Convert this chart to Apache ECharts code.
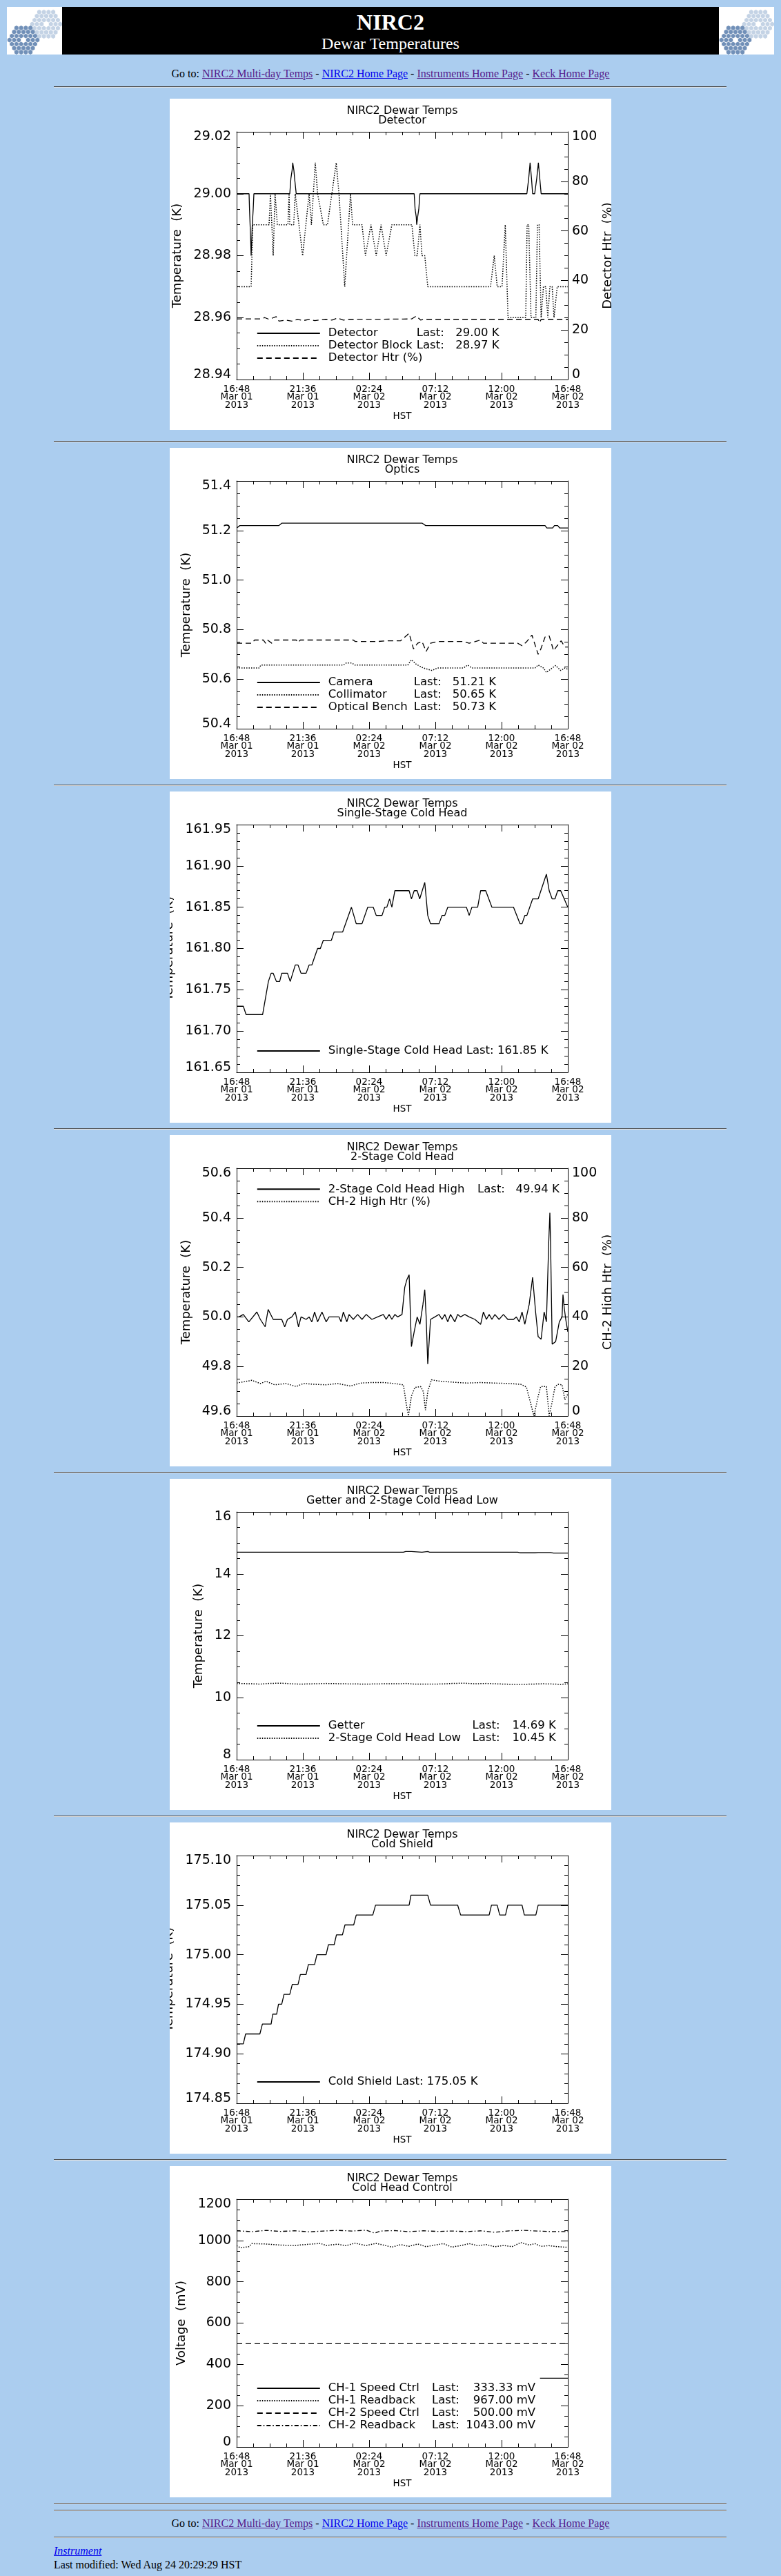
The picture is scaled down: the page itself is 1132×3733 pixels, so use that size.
<!DOCTYPE html>
<html><head><meta charset="utf-8">
<script src="https://cdn.jsdelivr.net/npm/echarts@6/dist/echarts.min.js"></script>
<style>
html,body{margin:0;padding:0;background:#ABCDEF;}
body{width:1132px;height:3733px;position:relative;overflow:hidden;font-family:'Liberation Serif','Times New Roman',serif;color:#000;}
.hr{position:absolute;left:78px;width:975px;height:0;border-top:1px solid #4c4c4c;border-bottom:1px solid #e2e2e2;}
.panel{position:absolute;left:246px;width:640px;height:480px;background:#fff;}
.nav{position:absolute;left:0;width:1132px;text-align:center;font-size:16px;line-height:20px;white-space:nowrap;}
a{text-decoration:underline;}
.vis{color:#551A8B;} .unv{color:#0000EE;}
.logo{position:absolute;top:10px;width:80px;height:69px;background:#fff;overflow:hidden;}
#banner{position:absolute;left:90px;top:10px;width:952px;height:69px;background:#000;color:#fff;}
</style></head>
<body>
<svg id="logoL" class="logo" style="left:10px" viewBox="0 0 80 69"></svg>
<div id="banner">
  <div style="position:absolute;left:0;width:952px;top:3.5px;text-align:center;font-size:32px;line-height:36px;font-weight:bold;">NIRC2</div>
  <div style="position:absolute;left:0;width:952px;top:39px;text-align:center;font-size:24px;line-height:28px;">Dewar Temperatures</div>
</div>
<svg id="logoR" class="logo" style="left:1042px" viewBox="0 0 80 69"></svg>

<div class="nav" style="top:97px">Go to: <a class="vis">NIRC2 Multi-day Temps</a> - <a class="unv">NIRC2 Home Page</a> - <a class="vis">Instruments Home Page</a> - <a class="vis">Keck Home Page</a></div>
<div class="hr" style="top:125px"></div>

<div class="panel" id="p0" style="top:143px"></div>
<div class="hr" style="top:639px"></div>
<div class="panel" id="p1" style="top:649px"></div>
<div class="hr" style="top:1137px"></div>
<div class="panel" id="p2" style="top:1147px"></div>
<div class="hr" style="top:1635px"></div>
<div class="panel" id="p3" style="top:1645px"></div>
<div class="hr" style="top:2133px"></div>
<div class="panel" id="p4" style="top:2143px"></div>
<div class="hr" style="top:2631px"></div>
<div class="panel" id="p5" style="top:2641px"></div>
<div class="hr" style="top:3129px"></div>
<div class="panel" id="p6" style="top:3139px"></div>
<div class="hr" style="top:3627px"></div>
<div class="hr" style="top:3637px"></div>
<div class="nav" style="top:3647px">Go to: <a class="vis">NIRC2 Multi-day Temps</a> - <a class="unv">NIRC2 Home Page</a> - <a class="vis">Instruments Home Page</a> - <a class="vis">Keck Home Page</a></div>
<div class="hr" style="top:3676px"></div>
<div style="position:absolute;left:78px;top:3687px;font-size:16px;line-height:20px;"><a class="unv" style="font-style:italic">Instrument</a></div>
<div style="position:absolute;left:78px;top:3707px;font-size:16px;line-height:20px;white-space:nowrap;">Last modified: Wed Aug 24 20:29:29 HST</div>

<script>
// ---------- shared x-axis tick labels (minutes after 16:48 Mar 01 2013) ----------
const xTickTime = ['16:48','21:36','02:24','07:12','12:00','16:48'];
const xTickDate = ['Mar 01','Mar 01','Mar 02','Mar 02','Mar 02','Mar 02'];
const xTickYear = ['2013','2013','2013','2013','2013','2013'];

// ---------- Panel 1: Detector ----------
const detYTicks = ['28.94','28.96','28.98','29.00','29.02'];
const pctTicks = ['0','20','40','60','80','100'];
const detT = [0,54,56,61,63,66,68,72,75,231,236,241,244,249,252,259,772,776,781,783,787,792,797,1262,1270,1276,1282,1287,1296,1305,1312,1318,1324,1440];
const detV = [29.000,29.000,28.995,28.985,28.980,28.980,28.990,28.995,29.000,29.000,29.005,29.0075,29.010,29.0075,29.005,29.000,29.000,28.995,28.9925,28.990,28.9925,28.995,29.000,29.000,29.005,29.010,29.005,29.000,29.000,29.005,29.010,29.005,29.000,29.000];
const blkT = [0,63,70,141,147,152,159,167,173,177,223,228,231,248,255,287,315,325,330,342,352,377,395,433,445,470,495,504,545,560,584,607,628,650,675,762,775,785,797,806,818,831,1104,1120,1133,1154,1168,1180,1257,1263,1270,1280,1301,1308,1315,1324,1334,1344,1353,1362,1372,1380,1394,1440];
const blkV = [28.97,28.97,28.99,28.99,29.00,29.00,28.98,29.00,29.00,28.99,28.99,29.00,28.99,28.99,29.00,28.98,29.00,28.99,28.99,29.01,29.00,28.99,28.99,29.01,29.00,28.97,29.00,28.99,28.99,28.98,28.99,28.98,28.99,28.98,28.99,28.99,28.98,28.98,28.99,28.98,28.98,28.97,28.97,28.98,28.97,28.97,28.99,28.96,28.96,28.99,28.99,28.96,28.96,28.99,28.99,28.96,28.97,28.97,28.96,28.97,28.97,28.96,28.97,28.97];
const htrT = [0,103,122,141,172,184,215,240,265,290,315,340,389,414,439,464,489,725,762,781,800,812,1311,1317,1324,1440];
const htrV = [24.5,24.5,25.0,24.3,25.4,23.6,24.0,23.6,24.3,23.8,24.3,23.8,24.3,24.0,24.8,24.0,24.3,24.4,24.5,25.6,24.0,24.3,24.3,23.0,24.3,24.3];

// ---------- Panel 2: Optics ----------
const optYTicks = ['50.4','50.6','50.8','51.0','51.2','51.4'];
const camT = [0,14,184,197,806,822,1341,1349,1374,1382,1396,1405,1440];
const camV = [51.21,51.22,51.22,51.23,51.23,51.22,51.22,51.21,51.21,51.22,51.22,51.21,51.21];
const colT = [0,97,106,464,476,501,514,744,760,781,812,849,874,986,1005,1023,1297,1311,1334,1347,1372,1387,1409,1427,1440];
const colV = [50.645,50.645,50.657,50.657,50.665,50.665,50.657,50.657,50.678,50.66,50.645,50.635,50.645,50.645,50.657,50.645,50.645,50.657,50.645,50.627,50.645,50.655,50.635,50.645,50.64];
const benT = [0,66,78,116,126,134,153,165,259,267,277,507,516,613,650,713,750,769,787,806,824,843,874,986,1011,1061,1073,1222,1241,1260,1284,1311,1322,1341,1359,1378,1394,1411,1427,1440];
const benV = [50.745,50.745,50.758,50.758,50.745,50.758,50.745,50.758,50.758,50.748,50.758,50.758,50.752,50.752,50.755,50.755,50.785,50.722,50.745,50.752,50.712,50.745,50.752,50.752,50.745,50.758,50.745,50.745,50.735,50.75,50.778,50.70,50.72,50.77,50.775,50.715,50.735,50.755,50.73,50.73];

// ---------- Panel 3: Single-Stage Cold Head ----------
const sshYTicks = ['161.65','161.70','161.75','161.80','161.85','161.90','161.95'];
const sshT = [0,29,41,113,138,150,159,173,187,196,221,233,255,267,280,302,315,327,352,364,377,412,424,461,499,520,545,570,594,607,632,644,653,665,675,688,750,760,772,785,796,818,831,843,880,893,905,918,999,1011,1023,1048,1061,1083,1110,1204,1232,1241,1253,1262,1287,1311,1347,1359,1372,1384,1396,1409,1440];
const sshV = [161.73,161.73,161.72,161.72,161.76,161.77,161.77,161.76,161.76,161.77,161.77,161.76,161.78,161.78,161.77,161.77,161.78,161.78,161.80,161.80,161.81,161.81,161.82,161.82,161.85,161.83,161.83,161.85,161.85,161.84,161.84,161.85,161.85,161.86,161.85,161.87,161.87,161.86,161.87,161.87,161.86,161.88,161.84,161.83,161.83,161.84,161.84,161.85,161.85,161.84,161.85,161.85,161.87,161.87,161.85,161.85,161.83,161.83,161.84,161.84,161.86,161.86,161.89,161.87,161.86,161.86,161.87,161.87,161.85];

// ---------- Panel 4: 2-Stage Cold Head ----------
const ch2YTicks = ['49.6','49.8','50.0','50.2','50.4','50.6'];
const chT = [0,10,29,53,88,103,124,137,159,196,209,221,240,255,269,280,302,315,327,339,352,371,389,402,445,454,464,479,489,507,526,545,563,588,613,638,650,663,675,688,700,719,731,740,750,760,772,785,797,810,818,824,831,843,862,880,893,905,918,930,949,961,974,992,1011,1036,1061,1073,1086,1098,1110,1123,1141,1160,1179,1204,1216,1229,1241,1253,1272,1287,1300,1311,1324,1337,1347,1357,1362,1365,1372,1387,1403,1415,1419,1424,1431,1440];
const chV = [50.00,50.00,50.01,49.98,50.02,49.99,49.96,50.03,49.99,49.99,
 49.96,49.99,50.00,50.02,49.96,50.00,49.99,50.00,49.98,50.02,
 49.98,50.02,49.98,50.00,50.00,49.98,50.02,49.98,50.01,49.99,
 50.01,49.99,50.01,49.99,50.00,50.01,49.99,50.01,49.99,50.01,
 50.00,50.01,50.12,50.15,50.17,49.88,49.94,50.00,49.97,50.05,
 50.11,50.00,49.81,49.99,50.00,50.01,49.99,50.01,49.98,50.01,
 49.98,50.01,50.00,50.01,50.00,49.99,49.97,50.02,49.99,50.01,
 49.99,50.01,49.99,50.01,49.99,49.99,50.00,49.98,50.02,49.97,
 50.05,50.16,50.02,49.92,49.91,50.02,49.98,50.30,50.42,50.30,
 49.89,49.90,49.98,50.00,50.09,50.04,49.99,49.94];
const hhT = [0,66,103,128,165,215,259,290,340,389,439,495,538,588,638,688,725,737,747,760,775,800,812,821,831,847,887,936,999,1061,1123,1185,1235,1260,1278,1293,1311,1322,1347,1359,1372,1384,1396,1415,1427,1440];
const hhV = [13.3,14.4,13.1,14.0,12.6,13.1,11.9,13.1,12.8,12.6,13.1,12.1,13.3,13.5,13.5,13.1,12.6,5.2,0.1,8.0,11.5,11.9,9.8,2.4,9.8,14.6,14.0,13.7,13.3,13.5,13.3,13.1,12.8,11.7,5.2,0.0,8.0,11.9,11.9,0.1,5.7,11.7,12.8,12.6,6.6,8.9];

// ---------- Panel 5: Getter and 2-Stage Cold Head Low ----------
const getYTicks = ['8','10','12','14','16'];
const getT = [0,725,735,760,765,806,812,831,839,1222,1232,1272,1278,1297,1311,1365,1378,1440];
const getV = [14.70,14.70,14.72,14.72,14.70,14.70,14.72,14.72,14.70,14.70,14.68,14.68,14.69,14.68,14.69,14.69,14.67,14.67];
const lowT = [0,66,103,141,190,240,277,339,389,464,563,638,713,737,775,862,911,936,986,1036,1086,1160,1222,1284,1334,1384,1409,1440];
const lowV = [10.46,10.45,10.44,10.46,10.47,10.45,10.44,10.45,10.46,10.45,10.44,10.45,10.45,10.46,10.44,10.44,10.45,10.46,10.47,10.45,10.46,10.44,10.43,10.44,10.45,10.44,10.43,10.45];

// ---------- Panel 6: Cold Shield ----------
const csYTicks = ['174.85','174.90','174.95','175.00','175.05','175.10'];
const csT = [0,29,39,101,112,150,157,174,182,196,206,231,242,267,277,302,312,339,349,389,399,424,434,460,471,509,520,592,604,750,758,831,843,961,974,1098,1108,1133,1144,1169,1179,1241,1251,1301,1311,1440];
const csV = [174.91,174.91,174.92,174.92,174.93,174.93,174.94,174.94,174.95,174.95,174.96,174.96,174.97,174.97,174.98,174.98,174.99,174.99,175.00,175.00,175.01,175.01,175.02,175.02,175.03,175.03,175.04,175.04,175.05,175.05,175.06,175.06,175.05,175.05,175.04,175.04,175.05,175.05,175.04,175.04,175.05,175.05,175.04,175.04,175.05,175.05];

// ---------- Panel 7: Cold Head Control ----------
const mvYTicks = ['0','200','400','600','800','1000','1200'];
const s1T = [1319,1440]; const s1V = [333.33,333.33];
const r1T = [0,16,53,66,128,190,252,315,364,389,439,476,513,563,607,638,675,713,750,787,824,862,899,936,973,1011,1048,1085,1123,1160,1197,1235,1272,1297,1322,1359,1396,1440];
const r1V = [975,965,970,985,983,978,976,982,986,976,982,975,987,976,986,978,968,980,972,983,970,978,985,968,975,985,975,980,970,976,970,990,978,985,972,975,970,967];
const s2T = [0,1440]; const s2V = [500,500];
const r2T = [0,66,128,190,252,315,377,439,501,563,600,625,687,750,812,874,936,999,1061,1123,1185,1247,1309,1372,1440];
const r2V = [1047,1043,1049,1044,1047,1042,1046,1049,1046,1050,1036,1046,1048,1043,1047,1044,1046,1043,1047,1040,1047,1049,1046,1043,1043];

// ---------- builders ----------
const FONT = 'DejaVu Sans';
const BLK = '#000';
const STYLES = {
  solid: {type: 'solid', width: 1.3},
  dotted: {type: [1.5, 2], width: 1.5},
  dashed: {type: [8, 5], width: 1.3},
  dashdot: {type: [6, 3, 1.5, 3], width: 1.3}
};
function zip(t, v) { return t.map((x, i) => [x, v[i]]); }

function xAxisOpt(pos) {
  const show = pos === 'bottom';
  return {
    type: 'value', position: pos, min: 0, max: 1440, interval: 288,
    axisLine: {show: true, onZero: false, lineStyle: {color: BLK, width: 1}},
    axisTick: {show: true, inside: true, length: 10, lineStyle: {color: BLK, width: 1}},
    minorTick: {show: true, splitNumber: 4, length: 5, lineStyle: {color: BLK, width: 1}},
    splitLine: {show: false}, minorSplitLine: {show: false},
    axisLabel: show ? {
      show: true, margin: 9, hideOverlap: false, showMinLabel: true, showMaxLabel: true,
      fontFamily: FONT, fontSize: 13.5, lineHeight: 11.3, color: BLK,
      formatter: function (v) {
        const i = Math.round(v / 288);
        return xTickTime[i] + '\n' + xTickDate[i] + '\n' + xTickYear[i];
      }
    } : {show: false},
    name: show ? 'HST' : '', nameLocation: 'middle', nameGap: 46, nameMoveOverlap: false,
    nameTextStyle: {fontFamily: FONT, fontSize: 13.5, lineHeight: 14, color: BLK}
  };
}

function yAxisOpt(ax, pos, showLabel) {
  const lab = {fontFamily: FONT, fontSize: 19, color: BLK};
  return {
    type: 'value', position: pos, min: ax.min, max: ax.max, interval: ax.interval,
    axisLine: {show: true, onZero: false, lineStyle: {color: BLK, width: 1}},
    axisTick: {show: true, inside: true, length: 10, lineStyle: {color: BLK, width: 1}},
    minorTick: {show: true, splitNumber: ax.minor, length: 5, lineStyle: {color: BLK, width: 1}},
    splitLine: {show: false}, minorSplitLine: {show: false},
    axisLabel: showLabel ? Object.assign({
      show: true, margin: pos === 'left' ? 8 : 6, hideOverlap: false, showMinLabel: true, showMaxLabel: true,
      formatter: function (v) {
        const i = Math.round((v - ax.min) / ax.interval);
        const s = ax.ticks[i];
        if (s === undefined) return '';
        if (i === 0) return '{b|' + s + '}';
        if (i === ax.ticks.length - 1) return '{t|' + s + '}';
        return '{m|' + s + '}';
      },
      rich: {
        m: Object.assign({}, lab),
        t: Object.assign({padding: [14, 0, 0, 0]}, lab),
        b: Object.assign({padding: [0, 0, 14, 0]}, lab)
      }
    }, lab) : {show: false},
    name: showLabel && ax.name ? ax.name : '',
    nameLocation: 'middle', nameGap: ax.nameGap || 0, nameMoveOverlap: false,
    nameTextStyle: {fontFamily: FONT, fontSize: 18, lineHeight: 18, color: BLK}
  };
}

function legendOpt(L, names) {
  const base = {fontFamily: FONT, fontSize: 16.5, color: BLK, lineHeight: 18};
  const rich = {
    s: Object.assign({width: 7}, base),
    p: Object.assign({}, base),
    n: Object.assign({width: L.nameW}, base),
    l: Object.assign({width: L.lastW}, base),
    v: Object.assign(L.valW ? {width: L.valW, align: 'right'} : {}, base)
  };
  const o = {
    show: true, orient: 'vertical', left: 125.8, padding: 0,
    itemWidth: 91, itemHeight: 10, itemGap: 0, selectedMode: false,
    itemStyle: {opacity: 0, borderWidth: 0},
    lineStyle: {color: BLK},
    textStyle: Object.assign({rich: rich}, base),
    data: names,
    formatter: function (name) {
      const it = L.items[name] || {};
      if (it.plain) return '{s| }{p|' + it.plain + '}';
      if (!it.last) return '{s| }{p|' + name + '}';
      return '{s| }{n|' + name + '}{l|Last:}{v|' + it.last + '}';
    }
  };
  if (L.top !== undefined) o.top = L.top; else o.bottom = L.bottom;
  return o;
}

function buildChart(domId, P) {
  const chart = echarts.init(document.getElementById(domId), null, {renderer: 'canvas', width: 640, height: 480});
  const yAxes = [yAxisOpt(P.left, 'left', true)];
  if (P.right) yAxes.push(yAxisOpt(P.right, 'right', true));
  else yAxes.push(yAxisOpt(P.left, 'right', false));
  const series = P.series.map(s => ({
    type: 'line', name: s.name, data: zip(s.t, s.v), yAxisIndex: s.axis || 0, xAxisIndex: 0,
    symbol: 'none', showSymbol: false, smooth: false, silent: true, clip: true,
    lineStyle: {color: BLK, width: STYLES[s.style].width, type: STYLES[s.style].type},
    itemStyle: {color: BLK},
    emphasis: {disabled: true}
  }));
  chart.setOption({
    animation: false,
    backgroundColor: '#fff',
    textStyle: {fontFamily: FONT},
    title: {
      text: 'NIRC2 Dewar Temps\n' + P.sub, left: 337, top: 10.5, textAlign: 'center', padding: 0,
      textStyle: {fontFamily: FONT, fontSize: 16, fontWeight: 'normal', color: BLK, lineHeight: 14.3}
    },
    grid: {left: 97, top: 48, width: 480, height: 359, containLabel: false, outerBoundsMode: 'none'},
    xAxis: [xAxisOpt('bottom'), xAxisOpt('top')],
    yAxis: yAxes,
    legend: legendOpt(P.legend, P.series.map(s => s.name)),
    tooltip: {show: false},
    series: series
  });
}

buildChart('p0', {
  sub: 'Detector',
  left: {min: 28.94, max: 29.02, interval: 0.02, minor: 4, ticks: detYTicks, name: 'Temperature  (K)', nameGap: 77},
  right: {min: 0, max: 100, interval: 20, minor: 4, ticks: pctTicks, name: 'Detector Htr  (%)', nameGap: 49},
  series: [
    {name: 'Detector', t: detT, v: detV, style: 'solid'},
    {name: 'Detector Block', t: blkT, v: blkV, style: 'dotted'},
    {name: 'Detector Htr (%)', t: htrT, v: htrV, style: 'dashed', axis: 1}
  ],
  legend: {bottom: 95, nameW: 128, lastW: 56.5, items: {
    'Detector': {last: '29.00 K'}, 'Detector Block': {last: '28.97 K'}, 'Detector Htr (%)': {}
  }}
});

buildChart('p1', {
  sub: 'Optics',
  left: {min: 50.4, max: 51.4, interval: 0.2, minor: 4, ticks: optYTicks, name: 'Temperature  (K)', nameGap: 63.5},
  series: [
    {name: 'Camera', t: camT, v: camV, style: 'solid'},
    {name: 'Collimator', t: colT, v: colV, style: 'dotted'},
    {name: 'Optical Bench', t: benT, v: benV, style: 'dashed'}
  ],
  legend: {bottom: 95, nameW: 124, lastW: 56, items: {
    'Camera': {last: '51.21 K'}, 'Collimator': {last: '50.65 K'}, 'Optical Bench': {last: '50.73 K'}
  }}
});

buildChart('p2', {
  sub: 'Single-Stage Cold Head',
  left: {min: 161.65, max: 161.95, interval: 0.05, minor: 5, ticks: sshYTicks, name: 'Temperature  (K)', nameGap: 89},
  series: [
    {name: 'Single-Stage Cold Head', t: sshT, v: sshV, style: 'solid'}
  ],
  legend: {bottom: 95, nameW: 0, lastW: 0, items: {
    'Single-Stage Cold Head': {plain: 'Single-Stage Cold Head Last: 161.85 K'}
  }}
});

buildChart('p3', {
  sub: '2-Stage Cold Head',
  left: {min: 49.6, max: 50.6, interval: 0.2, minor: 4, ticks: ch2YTicks, name: 'Temperature  (K)', nameGap: 63.5},
  right: {min: 0, max: 100, interval: 20, minor: 4, ticks: pctTicks, name: 'CH-2 High Htr  (%)', nameGap: 49},
  series: [
    {name: '2-Stage Cold Head High', t: chT, v: chV, style: 'solid'},
    {name: 'CH-2 High Htr (%)', t: hhT, v: hhV, style: 'dotted', axis: 1}
  ],
  legend: {top: 69.3, nameW: 216.2, lastW: 55.6, items: {
    '2-Stage Cold Head High': {last: '49.94 K'}, 'CH-2 High Htr (%)': {}
  }}
});

buildChart('p4', {
  sub: 'Getter and 2-Stage Cold Head Low',
  left: {min: 8, max: 16, interval: 2, minor: 4, ticks: getYTicks, name: 'Temperature  (K)', nameGap: 45.5},
  series: [
    {name: 'Getter', t: getT, v: getV, style: 'solid'},
    {name: '2-Stage Cold Head Low', t: lowT, v: lowV, style: 'dotted'}
  ],
  legend: {bottom: 95, nameW: 208.8, lastW: 58, items: {
    'Getter': {last: '14.69 K'}, '2-Stage Cold Head Low': {last: '10.45 K'}
  }}
});

buildChart('p5', {
  sub: 'Cold Shield',
  left: {min: 174.85, max: 175.10, interval: 0.05, minor: 5, ticks: csYTicks, name: 'Temperature  (K)', nameGap: 89},
  series: [
    {name: 'Cold Shield', t: csT, v: csV, style: 'solid'}
  ],
  legend: {bottom: 95, nameW: 0, lastW: 0, items: {
    'Cold Shield': {plain: 'Cold Shield Last: 175.05 K'}
  }}
});

buildChart('p6', {
  sub: 'Cold Head Control',
  left: {min: 0, max: 1200, interval: 200, minor: 4, ticks: mvYTicks, name: 'Voltage  (mV)', nameGap: 71},
  series: [
    {name: 'CH-1 Speed Ctrl', t: s1T, v: s1V, style: 'solid'},
    {name: 'CH-1 Readback', t: r1T, v: r1V, style: 'dotted'},
    {name: 'CH-2 Speed Ctrl', t: s2T, v: s2V, style: 'dashed'},
    {name: 'CH-2 Readback', t: r2T, v: r2V, style: 'dashdot'}
  ],
  legend: {bottom: 95, nameW: 150.2, lastW: 44, valW: 106, items: {
    'CH-1 Speed Ctrl': {last: '333.33 mV'}, 'CH-1 Readback': {last: '967.00 mV'},
    'CH-2 Speed Ctrl': {last: '500.00 mV'}, 'CH-2 Readback': {last: '1043.00 mV'}
  }}
});

// ---------- header logos (hexagonal segmented-mirror emblem) ----------
function drawLogo(id) {
  const svg = document.getElementById(id);
  const s = 3.9;
  const mirrors = [{cx: 57, cy: 25, c: '#c4d3e5'}, {cx: 24, cy: 48, c: '#7190b8'}];
  let html = '';
  mirrors.forEach(m => {
    for (let q = -3; q <= 3; q++) for (let r = -3; r <= 3; r++) {
      const d = Math.max(Math.abs(q), Math.abs(r), Math.abs(q + r));
      if (d < 1 || d > 3) continue;
      const x = m.cx + s * Math.sqrt(3) * (q + r / 2), y = m.cy + s * 1.5 * r;
      const pts = [];
      for (let k = 0; k < 6; k++) {
        const a = Math.PI / 180 * (60 * k - 30);
        pts.push((x + s * 0.88 * Math.cos(a)).toFixed(2) + ',' + (y + s * 0.88 * Math.sin(a)).toFixed(2));
      }
      html += '<polygon points="' + pts.join(' ') + '" fill="' + m.c + '"/>';
    }
  });
  svg.innerHTML = html;
}
drawLogo('logoL'); drawLogo('logoR');
</script>
</body></html>
